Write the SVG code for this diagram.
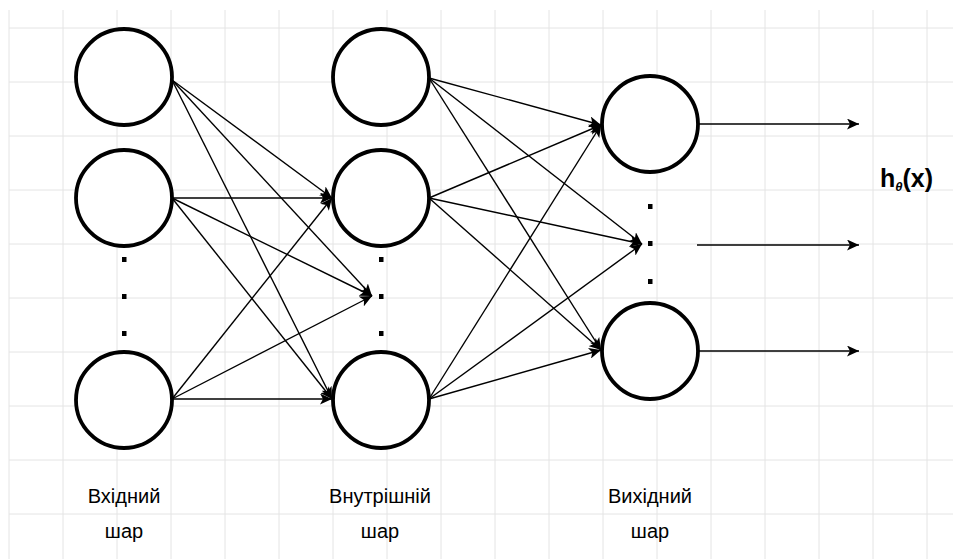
<svg xmlns="http://www.w3.org/2000/svg" width="953" height="559" viewBox="0 0 953 559">
<defs>
<style>
.grid line{stroke:#e4e4e4;stroke-width:1}
.node circle{fill:#ffffff;stroke:#000;stroke-width:3.8}
.dot{fill:#000}
.edge{stroke:#000;stroke-width:1.4;fill:none;marker-end:url(#arr)}
.lbl{font-family:"Liberation Sans",Arial,sans-serif;font-size:20px;fill:#000;text-anchor:middle}
.h{font-family:"Liberation Sans",Arial,sans-serif;font-weight:bold;fill:#000}
</style>
<marker id="arr" markerUnits="userSpaceOnUse" markerWidth="13" markerHeight="11" refX="12" refY="5.5" orient="auto">
<path d="M0,0 L12,5.5 L0,11 L3,5.5 z" fill="#000"/>
</marker>
</defs>
<rect width="953" height="559" fill="#ffffff"/>
<g class="grid" id="grid">
<line x1="9" y1="10" x2="9" y2="559"/>
<line x1="63" y1="10" x2="63" y2="559"/>
<line x1="117" y1="10" x2="117" y2="559"/>
<line x1="171" y1="10" x2="171" y2="559"/>
<line x1="225" y1="10" x2="225" y2="559"/>
<line x1="279" y1="10" x2="279" y2="559"/>
<line x1="333" y1="10" x2="333" y2="559"/>
<line x1="387" y1="10" x2="387" y2="559"/>
<line x1="441" y1="10" x2="441" y2="559"/>
<line x1="495" y1="10" x2="495" y2="559"/>
<line x1="549" y1="10" x2="549" y2="559"/>
<line x1="603" y1="10" x2="603" y2="559"/>
<line x1="657" y1="10" x2="657" y2="559"/>
<line x1="711" y1="10" x2="711" y2="559"/>
<line x1="765" y1="10" x2="765" y2="559"/>
<line x1="819" y1="10" x2="819" y2="559"/>
<line x1="873" y1="10" x2="873" y2="559"/>
<line x1="927" y1="10" x2="927" y2="559"/>
<line x1="9" y1="28" x2="953" y2="28"/>
<line x1="9" y1="82" x2="953" y2="82"/>
<line x1="9" y1="136" x2="953" y2="136"/>
<line x1="9" y1="190" x2="953" y2="190"/>
<line x1="9" y1="244" x2="953" y2="244"/>
<line x1="9" y1="298" x2="953" y2="298"/>
<line x1="9" y1="352" x2="953" y2="352"/>
<line x1="9" y1="406" x2="953" y2="406"/>
<line x1="9" y1="460" x2="953" y2="460"/>
<line x1="9" y1="514" x2="953" y2="514"/>
</g>
<g id="connectors">
<line class="edge" x1="172" y1="80" x2="332" y2="198"/>
<line class="edge" x1="172" y1="80" x2="372" y2="296"/>
<line class="edge" x1="172" y1="80" x2="332" y2="399"/>
<line class="edge" x1="172" y1="198" x2="332" y2="198"/>
<line class="edge" x1="172" y1="198" x2="372" y2="296"/>
<line class="edge" x1="172" y1="198" x2="332" y2="399"/>
<line class="edge" x1="172" y1="399" x2="332" y2="198"/>
<line class="edge" x1="172" y1="399" x2="372" y2="296"/>
<line class="edge" x1="172" y1="399" x2="332" y2="399"/>
<line class="edge" x1="429" y1="78" x2="601" y2="125"/>
<line class="edge" x1="429" y1="78" x2="642" y2="244"/>
<line class="edge" x1="429" y1="78" x2="601" y2="350"/>
<line class="edge" x1="429" y1="198" x2="601" y2="125"/>
<line class="edge" x1="429" y1="198" x2="642" y2="244"/>
<line class="edge" x1="429" y1="198" x2="601" y2="350"/>
<line class="edge" x1="429" y1="399" x2="601" y2="125"/>
<line class="edge" x1="429" y1="399" x2="642" y2="244"/>
<line class="edge" x1="429" y1="399" x2="601" y2="350"/>
<line class="edge" x1="698" y1="124" x2="859" y2="124"/>
<line class="edge" x1="697" y1="245" x2="859" y2="245"/>
<line class="edge" x1="698" y1="351" x2="859" y2="351"/>
</g>
<g id="in1" class="node"><circle cx="124" cy="77" r="48"/></g>
<g id="in2" class="node"><circle cx="124" cy="198" r="48"/></g>
<g id="in-dots"><rect class="dot" x="122" y="257" width="4.5" height="5"/><rect class="dot" x="122" y="294" width="4.5" height="5"/><rect class="dot" x="122" y="331" width="4.5" height="5"/></g>
<g id="in3" class="node"><circle cx="124" cy="400" r="48"/></g>
<g id="hid1" class="node"><circle cx="381" cy="77" r="48"/></g>
<g id="hid2" class="node"><circle cx="381" cy="198" r="48"/></g>
<g id="hid-dots"><rect class="dot" x="379" y="257" width="4.5" height="5"/><rect class="dot" x="379" y="294" width="4.5" height="5"/><rect class="dot" x="379" y="331" width="4.5" height="5"/></g>
<g id="hid3" class="node"><circle cx="381" cy="400" r="48"/></g>
<g id="out1" class="node"><circle cx="650" cy="124" r="48"/></g>
<g id="out-dots"><rect class="dot" x="648" y="204" width="4.5" height="5"/><rect class="dot" x="648" y="241" width="4.5" height="5"/><rect class="dot" x="648" y="279" width="4.5" height="5"/></g>
<g id="out2" class="node"><circle cx="650" cy="351" r="48"/></g>
<g id="label-in"><text class="lbl" x="124" y="503">Вхідний</text><text class="lbl" x="124" y="538">шар</text></g>
<g id="label-hid"><text class="lbl" x="380" y="503">Внутрішній</text><text class="lbl" x="380" y="538">шар</text></g>
<g id="label-out"><text class="lbl" x="650" y="503">Вихідний</text><text class="lbl" x="650" y="538">шар</text></g>
<g id="label-h"><text class="h" x="880" y="187" font-size="25">h<tspan font-size="13" font-style="italic" dy="4">θ</tspan><tspan dy="-4">(x)</tspan></text></g>
</svg>
